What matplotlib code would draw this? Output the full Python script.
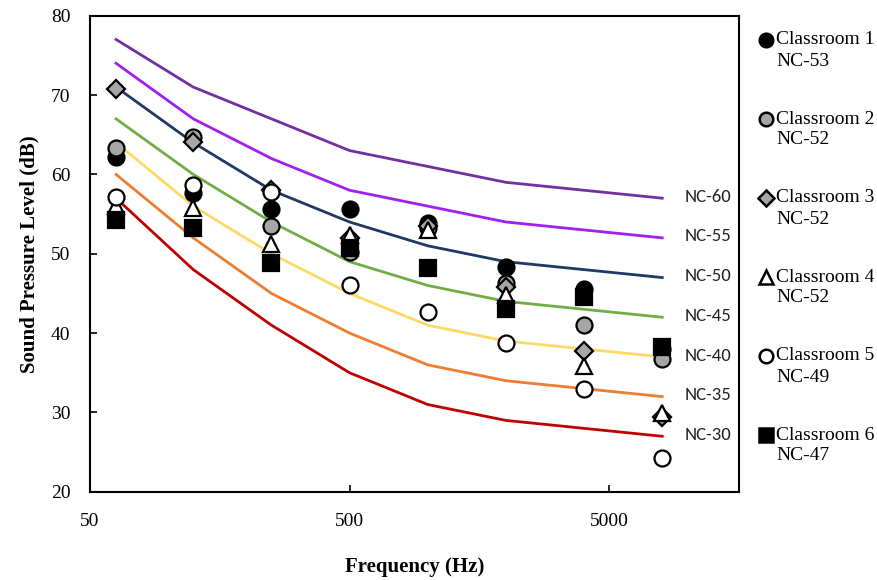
import numpy as np
import matplotlib.pyplot as plt
from matplotlib.lines import Line2D
from matplotlib.ticker import FixedLocator, NullLocator

plt.rcParams['font.family'] = ['Liberation Serif', 'DejaVu Serif']

# octave band centre frequencies
freq = [63, 125, 250, 500, 1000, 2000, 4000, 8000]

# NC curves
nc_names = ['NC-60', 'NC-55', 'NC-50', 'NC-45', 'NC-40', 'NC-35', 'NC-30']
nc60 = [77, 71, 67, 63, 61, 59, 58, 57]
nc55 = [74, 67, 62, 58, 56, 54, 53, 52]
nc50 = [71, 64, 58, 54, 51, 49, 48, 47]
nc45 = [67, 60, 54, 49, 46, 44, 43, 42]
nc40 = [64, 56, 50, 45, 41, 39, 38, 37]
nc35 = [60, 52, 45, 40, 36, 34, 33, 32]
nc30 = [57, 48, 41, 35, 31, 29, 28, 27]
nc_colors = ['#7030A0', '#A020F0', '#1F3864', '#70AD47', '#FFD966', '#ED7D31', '#C00000']

# measured classrooms
room_names = ['Classroom 1', 'Classroom 2', 'Classroom 3',
              'Classroom 4', 'Classroom 5', 'Classroom 6']
room_nc = ['NC-53', 'NC-52', 'NC-52', 'NC-52', 'NC-49', 'NC-47']
room1 = [62.2, 57.6, 55.6, 55.6, 53.9, 48.3, 45.6, 38.0]
room2 = [63.3, 64.7, 53.5, 50.2, 53.3, 46.3, 41.0, 36.7]
room3 = [70.7, 64.1, 58.0, 52.0, 53.5, 45.8, 37.8, 29.4]
room4 = [56.0, 55.8, 51.2, 52.3, 53.0, 44.8, 35.9, 29.9]
room5 = [57.1, 58.7, 57.8, 46.0, 42.6, 38.8, 32.9, 24.3]
room6 = [54.2, 53.2, 48.8, 50.7, 48.2, 43.1, 44.5, 38.3]

fig = plt.figure(figsize=(8.77, 5.8), dpi=100)
ax = fig.add_axes([0.1026, 0.152, 0.7400, 0.821])

nc_all = [nc60, nc55, nc50, nc45, nc40, nc35, nc30]
for name, vals, c in zip(nc_names, nc_all, nc_colors):
    ax.plot(freq, vals, color=c, lw=2, zorder=2)
    ax.annotate(name, xy=(freq[-1], vals[-1]), xytext=(16, 1), textcoords='offset points',
                va='center', ha='left', fontsize=13.5, color='#222222',
                family=['Carlito', 'Lato', 'DejaVu Sans'])

rooms = [room1, room2, room3, room4, room5, room6]
styles = [
    dict(marker='o', ms=11.5, mfc='black', mec='black'),
    dict(marker='o', ms=11.5, mfc='#A6A6A6', mec='black'),
    dict(marker='D', ms=9, mfc='#A6A6A6', mec='black'),
    dict(marker='^', ms=12, mfc='white', mec='black'),
    dict(marker='o', ms=11.5, mfc='white', mec='black'),
    dict(marker='s', ms=12, mfc='black', mec='black'),
]
for i, (vals, st) in enumerate(zip(rooms, styles)):
    ax.plot(freq, vals, ls='none', mew=1.6, zorder=3 + i, **st)

ax.set_xscale('log')
ax.set_xlim(50, 15800)
ax.set_ylim(20, 80)
ax.xaxis.set_major_locator(FixedLocator([50, 500, 5000]))
ax.xaxis.set_minor_locator(NullLocator())
ax.set_xticklabels(['50', '500', '5000'])
ax.set_yticks(range(20, 81, 10))
ax.tick_params(direction='in', length=5, width=1.2, labelsize=14)
ax.tick_params(axis='x', pad=15)
ax.tick_params(axis='y', pad=14)
for s in ax.spines.values():
    s.set_linewidth(1.5)

ax.set_xlabel('Frequency (Hz)', fontsize=15, fontweight='bold', labelpad=20)
ax.set_ylabel('Sound Pressure Level (dB)', fontsize=15, fontweight='bold', labelpad=8)

# legend drawn by hand: marker next to first line, NC rating below
x_mk, x_tx = 766 / 877, 776 / 877
for i, (nm, ncr, st) in enumerate(zip(room_names, room_nc, styles)):
    y = 1 - (40 + 79 * i) / 580
    st2 = dict(st)
    st2['ms'] = st['ms'] * 0.85
    fig.add_artist(Line2D([x_mk], [y], ls='none', mew=1.8, transform=fig.transFigure, **st2))
    fig.text(x_tx, y, nm, fontsize=14, va='center', ha='left')
    fig.text(x_tx, y - 21 / 580, ncr, fontsize=14, va='center', ha='left')

fig.savefig('out.png', dpi=100)
